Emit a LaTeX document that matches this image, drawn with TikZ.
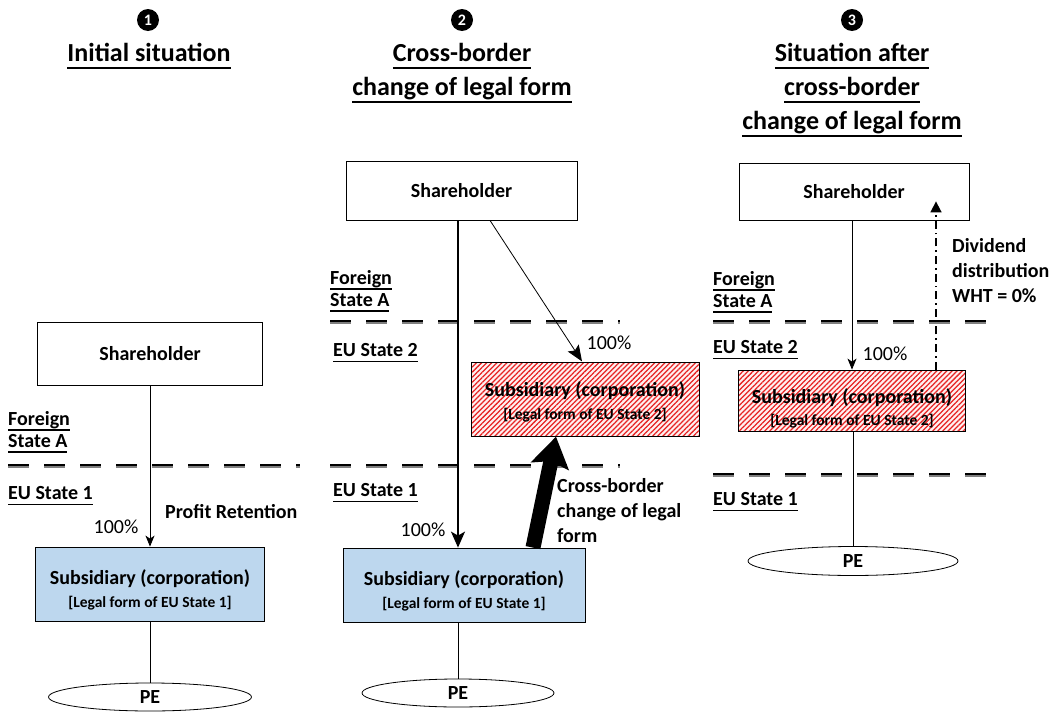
\documentclass[tikz,border=0pt]{standalone}
\usepackage{fontspec}
\setmainfont{Carlito}
\usetikzlibrary{arrows.meta,patterns.meta,shapes.geometric,calc}
\definecolor{subblue}{RGB}{189,215,238}
\definecolor{hatchred}{RGB}{230,35,35}
\newcommand{\myul}[1]{\leavevmode\setbox0=\hbox{#1}\rlap{\rule[-0.27em]{\wd0}{0.075em}}\box0}
\newcommand{\tul}[1]{\leavevmode\setbox0=\hbox{#1}\rlap{\rule[-0.3em]{\wd0}{0.085em}}\box0}
\newcommand{\bordline}[3]{%
  \draw[borderhi] (#1,#3-1) -- (#2,#3-1);
  \draw[borderlo] (#1,#3+0.9) -- (#2,#3+0.9);}
\tikzset{
  num/.style={circle, fill=black, text=white, inner sep=0pt, minimum size=22pt, font=\fontsize{16}{16}\selectfont},
  ttl/.style={align=center, inner sep=0pt, font=\fontsize{26}{34}\selectfont\bfseries},
  lbl/.style={align=left, anchor=west, inner sep=0pt, font=\fontsize{20}{22}\selectfont\bfseries},
  lbltxt/.style={align=left, anchor=west, inner sep=0pt, font=\fontsize{20}{25}\selectfont\bfseries},
  pct/.style={inner sep=0pt, font=\fontsize{20}{22}\selectfont},
  shbox/.style={draw, line width=0.8pt, fill=white, inner sep=0pt, font=\fontsize{20}{22}\selectfont\bfseries},
  subbox/.style={draw, line width=0.8pt, inner sep=0pt, align=center, font=\fontsize{20}{22.5}\selectfont\bfseries},
  bluebox/.style={subbox, fill=subblue},
  redbox/.style={subbox, preaction={fill=red!6}, pattern={Lines[angle=45,distance=3.6pt,line width=1.25pt]}, pattern color=hatchred},
  pe/.style={draw, ellipse, line width=0.8pt, inner sep=0pt, font=\fontsize{20}{22}\selectfont\bfseries},
  borderhi/.style={line width=2pt, black, dash pattern=on 21pt off 15pt},
  borderlo/.style={line width=1.8pt, black!50, dash pattern=on 21pt off 15pt},
  thinarrow/.style={line width=0.8pt, -{Stealth[length=11pt,width=9pt,inset=3pt]}},
  midarrow/.style={line width=1.8pt, -{Stealth[length=16pt,width=14pt,inset=4pt]}},
  diagarrow/.style={line width=0.8pt, -{Stealth[length=16pt,width=13pt,inset=3pt]}},
  smallarrow/.style={line width=0.8pt, -{Stealth[length=11pt,width=9pt,inset=3pt]}},
  blockarrow/.style={line width=15pt, -{Stealth[length=30pt,width=38pt,inset=5pt]}},
  dividend/.style={line width=1.6pt, dash pattern=on 8pt off 4pt on 1.6pt off 4pt, -{Triangle[length=11pt,width=11pt]}},
  plain/.style={line width=0.6pt}
}
\begin{document}
\begin{tikzpicture}[x=1pt,y=-1pt]
\useasboundingbox (0,0) rectangle (1053,712);
\fill[white] (0,0) rectangle (1053,712);

% ---------------- Panel 1 ----------------
\node[num] (n1) at (148,20) {\bfseries 1};
\node[ttl] (t1) at (149,56) {\tul{Initial situation}};
\node[shbox, minimum width=225pt, minimum height=63pt] (sh1) at (150,353.5) {Shareholder};
\node[lbl] (fa1) at (8,432) {\myul{Foreign}\\\myul{State A}};
\bordline{8}{300}{466}
\node[lbl] (eu1) at (8,496) {\myul{EU State 1}};
\node[bluebox, minimum width=229pt, minimum height=74pt] (sub1) at (150,584)
  {\rule{0pt}{27pt}Subsidiary (corporation)\\{\fontsize{15.5}{18}\selectfont [Legal form of EU State 1]}};
\draw[thinarrow] (sh1) -- (sub1);
\node[lbltxt] (pr1) at (165,512) {Profit Retention};
\node[pct] (p1) at (116,527) {100\%};
\node[pe, minimum width=203pt, minimum height=28pt] (pe1) at (150,697) {PE};
\draw[plain] (sub1) -- (pe1);

% ---------------- Panel 2 ----------------
\node[num] (n2) at (462,20) {\bfseries 2};
\node[ttl] (t2) at (462,73) {\tul{Cross-border}\\\tul{change of legal form}};
\node[shbox, minimum width=231pt, minimum height=59pt] (sh2) at (461.5,190.5) {Shareholder};
\node[lbl] (fa2) at (330,291) {\myul{Foreign}\\\myul{State A}};
\bordline{330}{620}{322}
\node[lbl] (eu2a) at (333,353) {\myul{EU State 2}};
\node[redbox, minimum width=228pt, minimum height=74pt] (sub2r) at (585,399)
  {\rule{0pt}{21pt}Subsidiary (corporation)\\{\fontsize{15.5}{18}\selectfont [Legal form of EU State 2]}};
\bordline{330}{620}{466}
\node[lbl] (eu2b) at (333,493) {\myul{EU State 1}};
\node[bluebox, minimum width=242pt, minimum height=74pt] (sub2b) at (464,585)
  {\rule{0pt}{27pt}Subsidiary (corporation)\\{\fontsize{15.5}{18}\selectfont [Legal form of EU State 1]}};
\draw[midarrow] ([xshift=-3.5pt]sh2.south) -- ([xshift=-6pt]sub2b.north);
\draw[diagarrow] ([xshift=28.5pt]sh2.south) -- ([xshift=-3pt]sub2r.north);
\node[pct] (p2a) at (609,343) {100\%};
\node[pct] (p2b) at (423,530) {100\%};
\draw[blockarrow] ([xshift=69pt]sub2b.north) -- ([xshift=-29pt]sub2r.south);
\node[lbltxt] (cb2) at (557,511) {Cross-border\\change of legal\\form};
\node[pe, minimum width=192pt, minimum height=28pt] (pe2) at (458,693) {PE};
\draw[plain] (sub2b.south -| pe2.north) -- (pe2.north);

% ---------------- Panel 3 ----------------
\node[num] (n3) at (852,20) {\bfseries 3};
\node[ttl] (t3) at (852,90) {\tul{Situation after}\\\tul{cross-border}\\\tul{change of legal form}};
\node[shbox, minimum width=230pt, minimum height=57pt] (sh3) at (854,191.5) {Shareholder};
\node[lbl] (fa3) at (713,292) {\myul{Foreign}\\\myul{State A}};
\bordline{713}{1000}{322}
\node[lbl] (eu3a) at (713,350) {\myul{EU State 2}};
\node[redbox, minimum width=227pt, minimum height=61pt] (sub3r) at (852,400.5)
  {\rule{0pt}{31pt}Subsidiary (corporation)\\{\fontsize{15.5}{18}\selectfont [Legal form of EU State 2]}};
\draw[smallarrow] (sub3r.north |- sh3.south) -- (sub3r.north);
\node[pct] (p3) at (885,354) {100\%};
\draw[dividend] ([xshift=84pt]sub3r.north) -- ([xshift=82pt,yshift=19pt]sh3.south);
\node[lbltxt] (dv3) at (952,271) {Dividend\\distribution\\WHT = 0\%};
\bordline{713}{1000}{475}
\node[lbl] (eu3b) at (713,502) {\myul{EU State 1}};
\node[pe, minimum width=210pt, minimum height=29pt] (pe3) at (853,561) {PE};
\draw[plain] (sub3r.south -| pe3.north) -- (pe3.north);
\end{tikzpicture}
\end{document}
